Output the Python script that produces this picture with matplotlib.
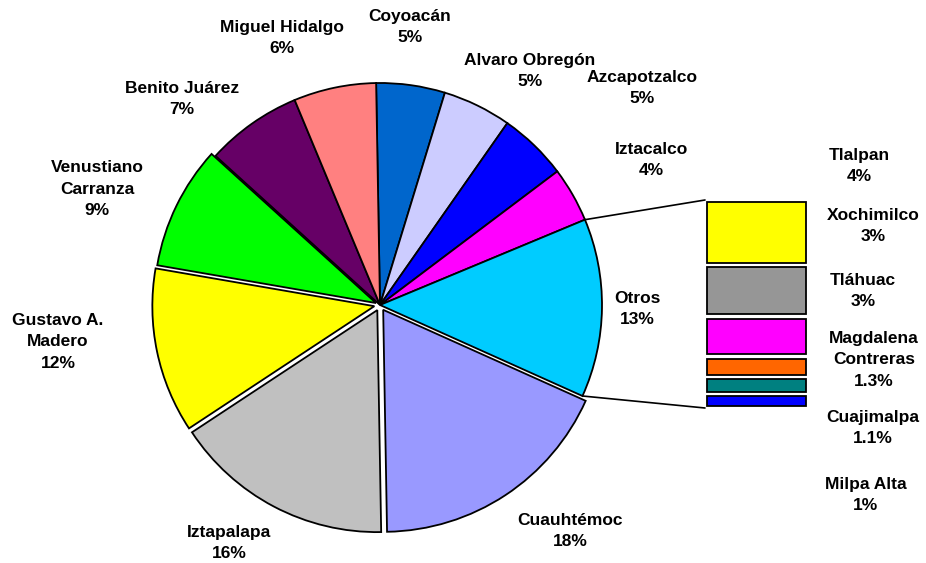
import matplotlib
matplotlib.use("Agg")
import matplotlib.pyplot as plt
from matplotlib.patches import ConnectionPatch
import numpy as np

# Pie data (clockwise from the top)
pie_names = ["Coyoacán", "Alvaro Obregón", "Azcapotzalco", "Iztacalco", "Otros",
             "Cuauhtémoc", "Iztapalapa", "Gustavo A.\nMadero", "Venustiano\nCarranza",
             "Benito Juárez", "Miguel Hidalgo"]
pie_values = [5, 5, 5, 4, 13, 18, 16, 12, 9, 7, 6]
pie_colors = ["#0066CC", "#CCCCFF", "#0000FF", "#FF00FF", "#00CCFF",
              "#9999FF", "#C0C0C0", "#FFFF00", "#00FF00", "#660066", "#FF8080"]
pie_explode = [0, 0, 0, 0, 0, 0.026, 0.026, 0.026, 0.02, 0, 0]

# Bar data ("Otros" broken down, top to bottom)
bar_names = ["Tlalpan", "Xochimilco", "Tláhuac", "Magdalena\nContreras", "Cuajimalpa", "Milpa Alta"]
bar_values = [4.2, 3.3, 2.6, 1.3, 1.1, 0.9]
bar_pct = ["4%", "3%", "3%", "1.3%", "1.1%", "1%"]
bar_colors = ["#FFFF00", "#969696", "#FF00FF", "#FF6600", "#008080", "#0000FF"]

# label positions in pixels (image coords, y down)
pie_label_pos = [(410, 27), (530, 71), (642, 88), (651, 160), (637, 309),
                 (570, 531), (229, 543), (58, 342), (97, 189), (182, 99), (282, 38)]
bar_label_pos = [(859, 166), (873, 226), (863, 291), (874, 360), (873, 428), (866, 495)]

W, H = 926, 563
fig = plt.figure(figsize=(W / 100, H / 100), dpi=100)

ax = fig.add_axes([0, 0, 1, 1])
cx, cy, R = 380, H - 305, 222
wedges, _ = ax.pie(pie_values, colors=pie_colors, explode=[e * R for e in pie_explode],
                   startangle=91, counterclock=False, center=(cx, cy), radius=R,
                   wedgeprops=dict(edgecolor="black", linewidth=1.3))
ax.set_xlim(0, W)
ax.set_ylim(0, H)
ax.axis("off")

# stacked bar for "Otros"
bx = fig.add_axes([705 / W, (H - 408) / H, 103 / W, 208 / H])
total = sum(bar_values)
pad = 0.011 * total
bottom = 0
for v, c in zip(bar_values[::-1], bar_colors[::-1]):
    bx.bar(0, v - 2 * pad, bottom=bottom + pad, width=0.97, color=c,
           edgecolor="black", linewidth=1.3)
    bottom += v
bx.set_xlim(-0.5, 0.5)
bx.set_ylim(0, total)
bx.axis("off")

# connector lines from the "Otros" wedge to the bar
w = wedges[4]
for ang, ytop in [(w.theta2, total), (w.theta1, 0)]:
    p = (cx + R * np.cos(np.radians(ang)), cy + R * np.sin(np.radians(ang)))
    con = ConnectionPatch(xyA=p, coordsA=ax.transData, xyB=(-0.5, ytop), coordsB=bx.transData,
                          color="black", linewidth=1.2)
    fig.add_artist(con)

font = dict(ha="center", va="center", fontsize=12.5, fontweight="bold",
            family="Liberation Sans", linespacing=1.55, multialignment="center")
for name, v, (x, y) in zip(pie_names, pie_values, pie_label_pos):
    fig.text(x / W, 1 - y / H, "{}\n{}%".format(name, v), **font)
for name, pct, (x, y) in zip(bar_names, bar_pct, bar_label_pos):
    fig.text(x / W, 1 - y / H, "{}\n{}".format(name, pct), **font)

fig.savefig("out.png", dpi=100)
